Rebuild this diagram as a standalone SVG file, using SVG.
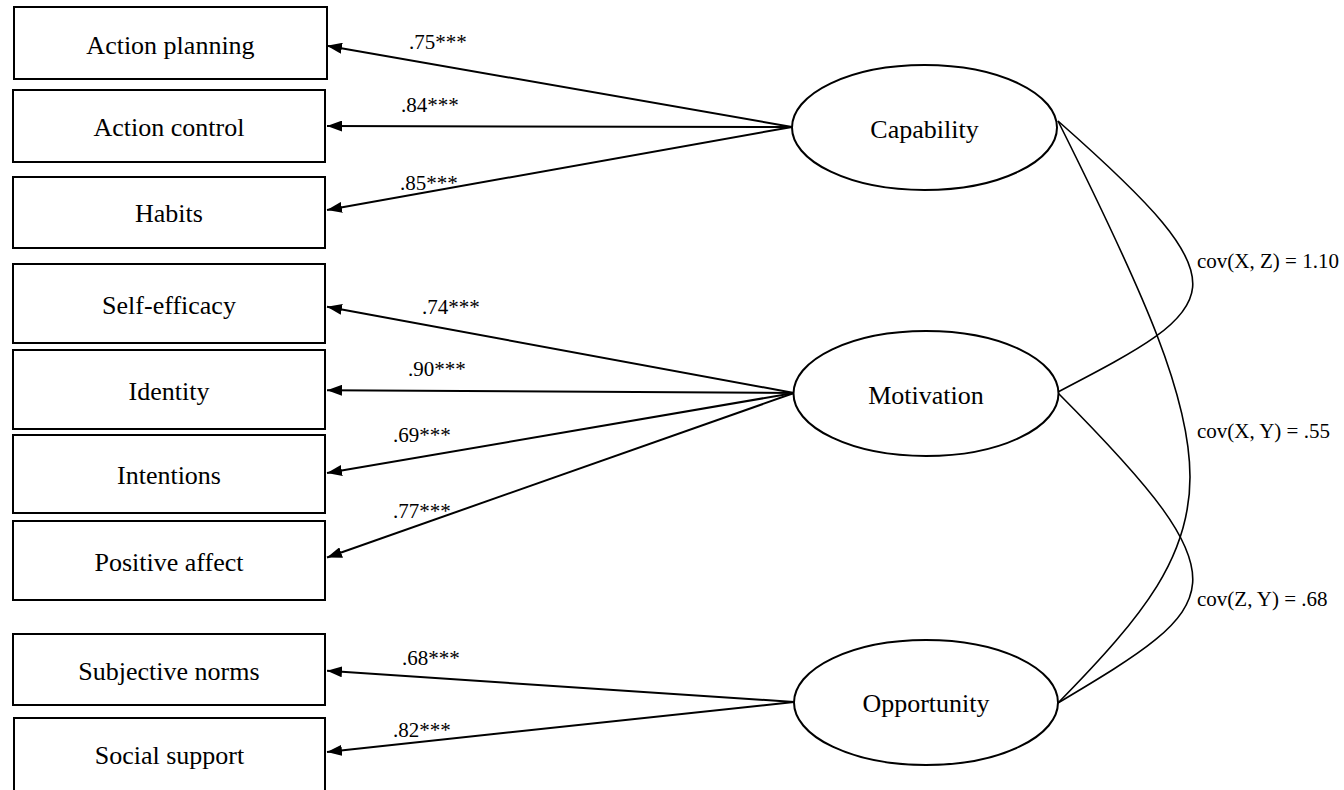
<svg xmlns="http://www.w3.org/2000/svg" width="1344" height="790" viewBox="0 0 1344 790">
<style>
.box{fill:#fff;stroke:#000;stroke-width:2}
.ell{fill:#fff;stroke:#000;stroke-width:2}
.t{font-family:"Liberation Serif","Times New Roman",serif;font-size:26px;fill:#000;text-anchor:middle}
.lbl{font-family:"Liberation Serif","Times New Roman",serif;font-size:21px;fill:#000}
.path{stroke:#000;stroke-width:2;fill:none;marker-end:url(#arr)}
.cov{stroke:#000;stroke-width:1.6;fill:none}
</style>
<defs>
<marker id="arr" viewBox="0 0 15 11" refX="15" refY="5.5" markerWidth="15" markerHeight="11" markerUnits="userSpaceOnUse" orient="auto">
<path d="M0,0 L15,5.5 L0,11 z" fill="#000"/>
</marker>
</defs>
<rect width="1344" height="790" fill="#fff"/>

<g id="connectors">
<line class="path" x1="792" y1="127" x2="327" y2="45.7"/>
<line class="path" x1="792" y1="127" x2="327" y2="126"/>
<line class="path" x1="792" y1="127" x2="327" y2="210"/>
<line class="path" x1="794" y1="393" x2="327" y2="306.7"/>
<line class="path" x1="794" y1="393" x2="327" y2="390.2"/>
<line class="path" x1="794" y1="393" x2="327" y2="473"/>
<line class="path" x1="794" y1="393" x2="327" y2="557.5"/>
<line class="path" x1="794" y1="702" x2="327" y2="670.8"/>
<line class="path" x1="794" y1="702" x2="327" y2="751.9"/>
<path class="cov" d="M1058,121 C1250,290 1225,305 1058,392"/>
<path class="cov" d="M1058,121 C1234,473 1234,524 1058,703"/>
<path class="cov" d="M1058,393 C1250,586 1225,603.5 1058,703"/>
<text class="lbl" x="409" y="49">.75***</text>
<text class="lbl" x="401" y="112">.84***</text>
<text class="lbl" x="400" y="190">.85***</text>
<text class="lbl" x="422" y="314">.74***</text>
<text class="lbl" x="408" y="375.6">.90***</text>
<text class="lbl" x="393" y="441.5">.69***</text>
<text class="lbl" x="393" y="517.6">.77***</text>
<text class="lbl" x="402" y="664.7">.68***</text>
<text class="lbl" x="393" y="737.4">.82***</text>
<text class="lbl" x="1197" y="268.3">cov(X, Z) = 1.10</text>
<text class="lbl" x="1197" y="438.3">cov(X, Y) = .55</text>
<text class="lbl" x="1197" y="605.7">cov(Z, Y) = .68</text>
</g>

<g id="action-planning"><rect class="box" x="14" y="7" width="313" height="72"/><text class="t" x="170.5" y="53.5">Action planning</text></g>
<g id="action-control"><rect class="box" x="13" y="90" width="312" height="72"/><text class="t" x="169" y="136">Action control</text></g>
<g id="habits"><rect class="box" x="13" y="177" width="312" height="71"/><text class="t" x="169" y="222">Habits</text></g>
<g id="self-efficacy"><rect class="box" x="13" y="264" width="312" height="79"/><text class="t" x="169" y="313.5">Self-efficacy</text></g>
<g id="identity"><rect class="box" x="13" y="350" width="312" height="79"/><text class="t" x="169" y="399.5">Identity</text></g>
<g id="intentions"><rect class="box" x="13" y="435" width="312" height="78"/><text class="t" x="169" y="484">Intentions</text></g>
<g id="positive-affect"><rect class="box" x="13" y="521" width="312" height="79"/><text class="t" x="169" y="570.5">Positive affect</text></g>
<g id="subjective-norms"><rect class="box" x="13" y="634" width="312" height="71"/><text class="t" x="169" y="679.5">Subjective norms</text></g>
<g id="social-support"><rect class="box" x="14" y="718" width="311" height="80"/><text class="t" x="169.5" y="764">Social support</text></g>

<g id="capability"><ellipse class="ell" cx="924.5" cy="127.5" rx="132.5" ry="62.5"/><text class="t" x="924.5" y="137.5">Capability</text></g>
<g id="motivation"><ellipse class="ell" cx="926" cy="393.5" rx="132.5" ry="62.5"/><text class="t" x="926" y="403.5">Motivation</text></g>
<g id="opportunity"><ellipse class="ell" cx="926" cy="702.5" rx="132" ry="62.5"/><text class="t" x="926" y="712">Opportunity</text></g>
</svg>
